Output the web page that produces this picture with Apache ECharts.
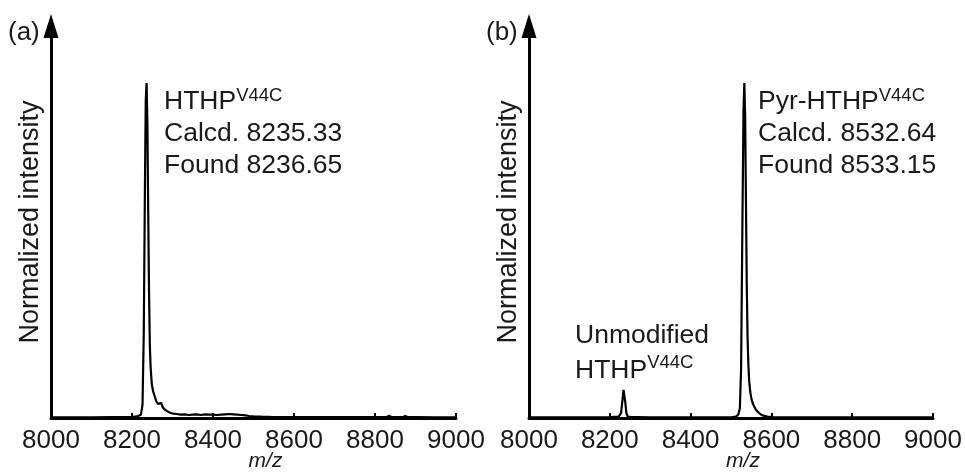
<!DOCTYPE html>
<html>
<head>
<meta charset="utf-8">
<script src="https://cdn.jsdelivr.net/npm/echarts@6/dist/echarts.min.js"></script>
<style>
  html, body { margin: 0; padding: 0; background: #fff; }
  #chart { width: 965px; height: 472px; }
</style>
</head>
<body>
<div id="chart"></div>
<script>
// ---- Data ----
var xTickValues = [8000, 8200, 8400, 8600, 8800, 9000];

// (a) HTHP V44C spectrum: m/z and normalized intensity (%)
var specA_mz = [8000, 8050, 8100, 8150, 8200, 8215, 8222, 8226, 8229, 8232,
  8234, 8236, 8238, 8240, 8242, 8244, 8246, 8249, 8252, 8256,
  8260, 8264, 8268, 8272, 8276, 8280, 8285, 8290, 8296, 8302,
  8310, 8320, 8330, 8340, 8350, 8360, 8370, 8380, 8390, 8400,
  8410, 8420, 8430, 8440, 8450, 8460, 8470, 8480, 8490, 8500,
  8520, 8550, 8600, 8650, 8700, 8750, 8800, 8830, 8835, 8840,
  8870, 8875, 8880, 8900, 8950, 9000];
var specA_int = [0.2, 0.2, 0.2, 0.3, 0.3, 0.6, 1.0, 4, 25, 70,
  95, 100, 88, 62, 38, 22, 15, 10, 8, 6.5,
  5, 4.2, 3.8, 4.5, 3.2, 2.6, 2.2, 1.8, 1.5, 1.3,
  1.2, 1.0, 1.1, 0.9, 1.0, 1.1, 0.9, 1.1, 1.0, 1.0,
  0.9, 1.0, 1.1, 1.2, 1.1, 1.0, 0.9, 0.8, 0.6, 0.5,
  0.4, 0.3, 0.3, 0.3, 0.3, 0.3, 0.3, 0.3, 0.7, 0.3,
  0.3, 0.6, 0.3, 0.3, 0.2, 0.2];

// (b) Pyr-HTHP V44C spectrum
var specB_mz = [8000, 8050, 8100, 8150, 8200, 8222, 8228, 8231, 8234, 8236,
  8238, 8241, 8244, 8250, 8262, 8265, 8268, 8300, 8350, 8400,
  8450, 8500, 8512, 8518, 8522, 8525, 8528, 8531, 8533, 8535,
  8537, 8539, 8541, 8543, 8545, 8548, 8551, 8555, 8560, 8565,
  8570, 8575, 8580, 8590, 8600, 8650, 8700, 8800, 8900, 9000];
var specB_int = [0.2, 0.2, 0.2, 0.2, 0.3, 0.4, 1.5, 5, 8.4, 8.0,
  5, 1.5, 0.5, 0.3, 0.3, 0.8, 0.3, 0.2, 0.2, 0.2,
  0.2, 0.2, 0.4, 1.0, 3, 15, 55, 92, 100, 90,
  65, 40, 24, 16, 11, 7.5, 5.5, 4, 2.8, 2,
  1.4, 1, 0.7, 0.4, 0.3, 0.2, 0.2, 0.2, 0.2, 0.2];

var panelLabels = ['(a)', '(b)'];
var xAxisName = 'm/z';
var yAxisName = 'Normalized intensity';
var annoA = ['HTHP', 'V44C', 'Calcd. 8235.33', 'Found 8236.65'];
var annoB = ['Pyr-HTHP', 'V44C', 'Calcd. 8532.64', 'Found 8533.15'];
var annoB2 = ['Unmodified', 'HTHP', 'V44C'];

// ---- Build ----
var FONT = '"Liberation Sans", Arial, Helvetica, sans-serif';
var TXT = '#1a1a1a';

function zip(xs, ys) {
  var out = [];
  for (var i = 0; i < xs.length; i++) out.push([xs[i], ys[i]]);
  return out;
}

function makeX(gi) {
  return {
    gridIndex: gi, type: 'value', min: xTickValues[0], max: xTickValues[xTickValues.length - 1],
    interval: xTickValues[1] - xTickValues[0],
    name: xAxisName, nameLocation: 'middle', nameGap: 33, nameMoveOverlap: false,
    nameTextStyle: { fontFamily: FONT, fontSize: 21, fontStyle: 'italic', color: TXT, padding: [0, 0, 0, 24] },
    axisLine: { show: true, onZero: false, lineStyle: { color: '#000', width: 3 } },
    axisTick: { show: true, inside: true, length: 5, lineStyle: { color: '#000', width: 2 } },
    axisLabel: { fontFamily: FONT, fontSize: 26, color: TXT, margin: 10, showMinLabel: true, showMaxLabel: true,
      formatter: function (v) { return String(v); } },
    splitLine: { show: false }
  };
}
function makeY(gi) {
  return {
    gridIndex: gi, type: 'value', min: 0, max: 117,
    name: yAxisName, nameLocation: 'middle', nameGap: 7,
    nameTextStyle: { fontFamily: FONT, fontSize: 27, color: TXT },
    axisLine: { show: true, symbol: ['none', 'triangle'], symbolSize: [15, 24],
      lineStyle: { color: '#000', width: 3 } },
    axisTick: { show: false }, axisLabel: { show: false }, splitLine: { show: false }
  };
}

var richStyle = {
  n: { fontFamily: FONT, fontSize: 26.5, lineHeight: 32, fill: TXT, color: TXT },
  s: { fontFamily: FONT, fontSize: 18.5, lineHeight: 24, verticalAlign: 'top', fill: TXT, color: TXT }
};
var richStyle2 = {
  n: { fontFamily: FONT, fontSize: 26.5, lineHeight: 35, fill: TXT, color: TXT },
  s: { fontFamily: FONT, fontSize: 18.5, lineHeight: 27, verticalAlign: 'top', fill: TXT, color: TXT }
};

function anno(x, y, lines, rich) {
  return { type: 'text', x: x, y: y, silent: true,
    style: { text: lines, fontFamily: FONT, fontSize: 26.5, fill: TXT, align: 'left', verticalAlign: 'top', rich: rich } };
}

var option = {
  animation: false,
  backgroundColor: '#fff',
  grid: [
    { left: 51, top: 26, width: 405, height: 392, containLabel: false, outerBoundsMode: 'none' },
    { left: 529, top: 26, width: 404, height: 392, containLabel: false, outerBoundsMode: 'none' }
  ],
  xAxis: [makeX(0), makeX(1)],
  yAxis: [makeY(0), makeY(1)],
  series: [
    { type: 'line', xAxisIndex: 0, yAxisIndex: 0, data: zip(specA_mz, specA_int),
      showSymbol: false, smooth: false, lineStyle: { color: '#000', width: 2.2 }, z: 3 },
    { type: 'line', xAxisIndex: 1, yAxisIndex: 1, data: zip(specB_mz, specB_int),
      showSymbol: false, smooth: false, lineStyle: { color: '#000', width: 2.2 }, z: 3 }
  ],
  graphic: [
    { type: 'text', x: 8, y: 33, silent: true,
      style: { text: panelLabels[0], fontFamily: FONT, fontSize: 26, fill: TXT, verticalAlign: 'middle' } },
    { type: 'text', x: 486, y: 33, silent: true,
      style: { text: panelLabels[1], fontFamily: FONT, fontSize: 26, fill: TXT, verticalAlign: 'middle' } },
    anno(164, 86, '{n|' + annoA[0] + '}{s|' + annoA[1] + '}\n{n|' + annoA[2] + '}\n{n|' + annoA[3] + '}', richStyle),
    anno(758, 86, '{n|' + annoB[0] + '}{s|' + annoB[1] + '}\n{n|' + annoB[2] + '}\n{n|' + annoB[3] + '}', richStyle),
    anno(575, 318, '{n|' + annoB2[0] + '}\n{n|' + annoB2[1] + '}{s|' + annoB2[2] + '}', richStyle2)
  ]
};

var chart = echarts.init(document.getElementById('chart'), null, { renderer: 'canvas' });
chart.setOption(option);
</script>
</body>
</html>
